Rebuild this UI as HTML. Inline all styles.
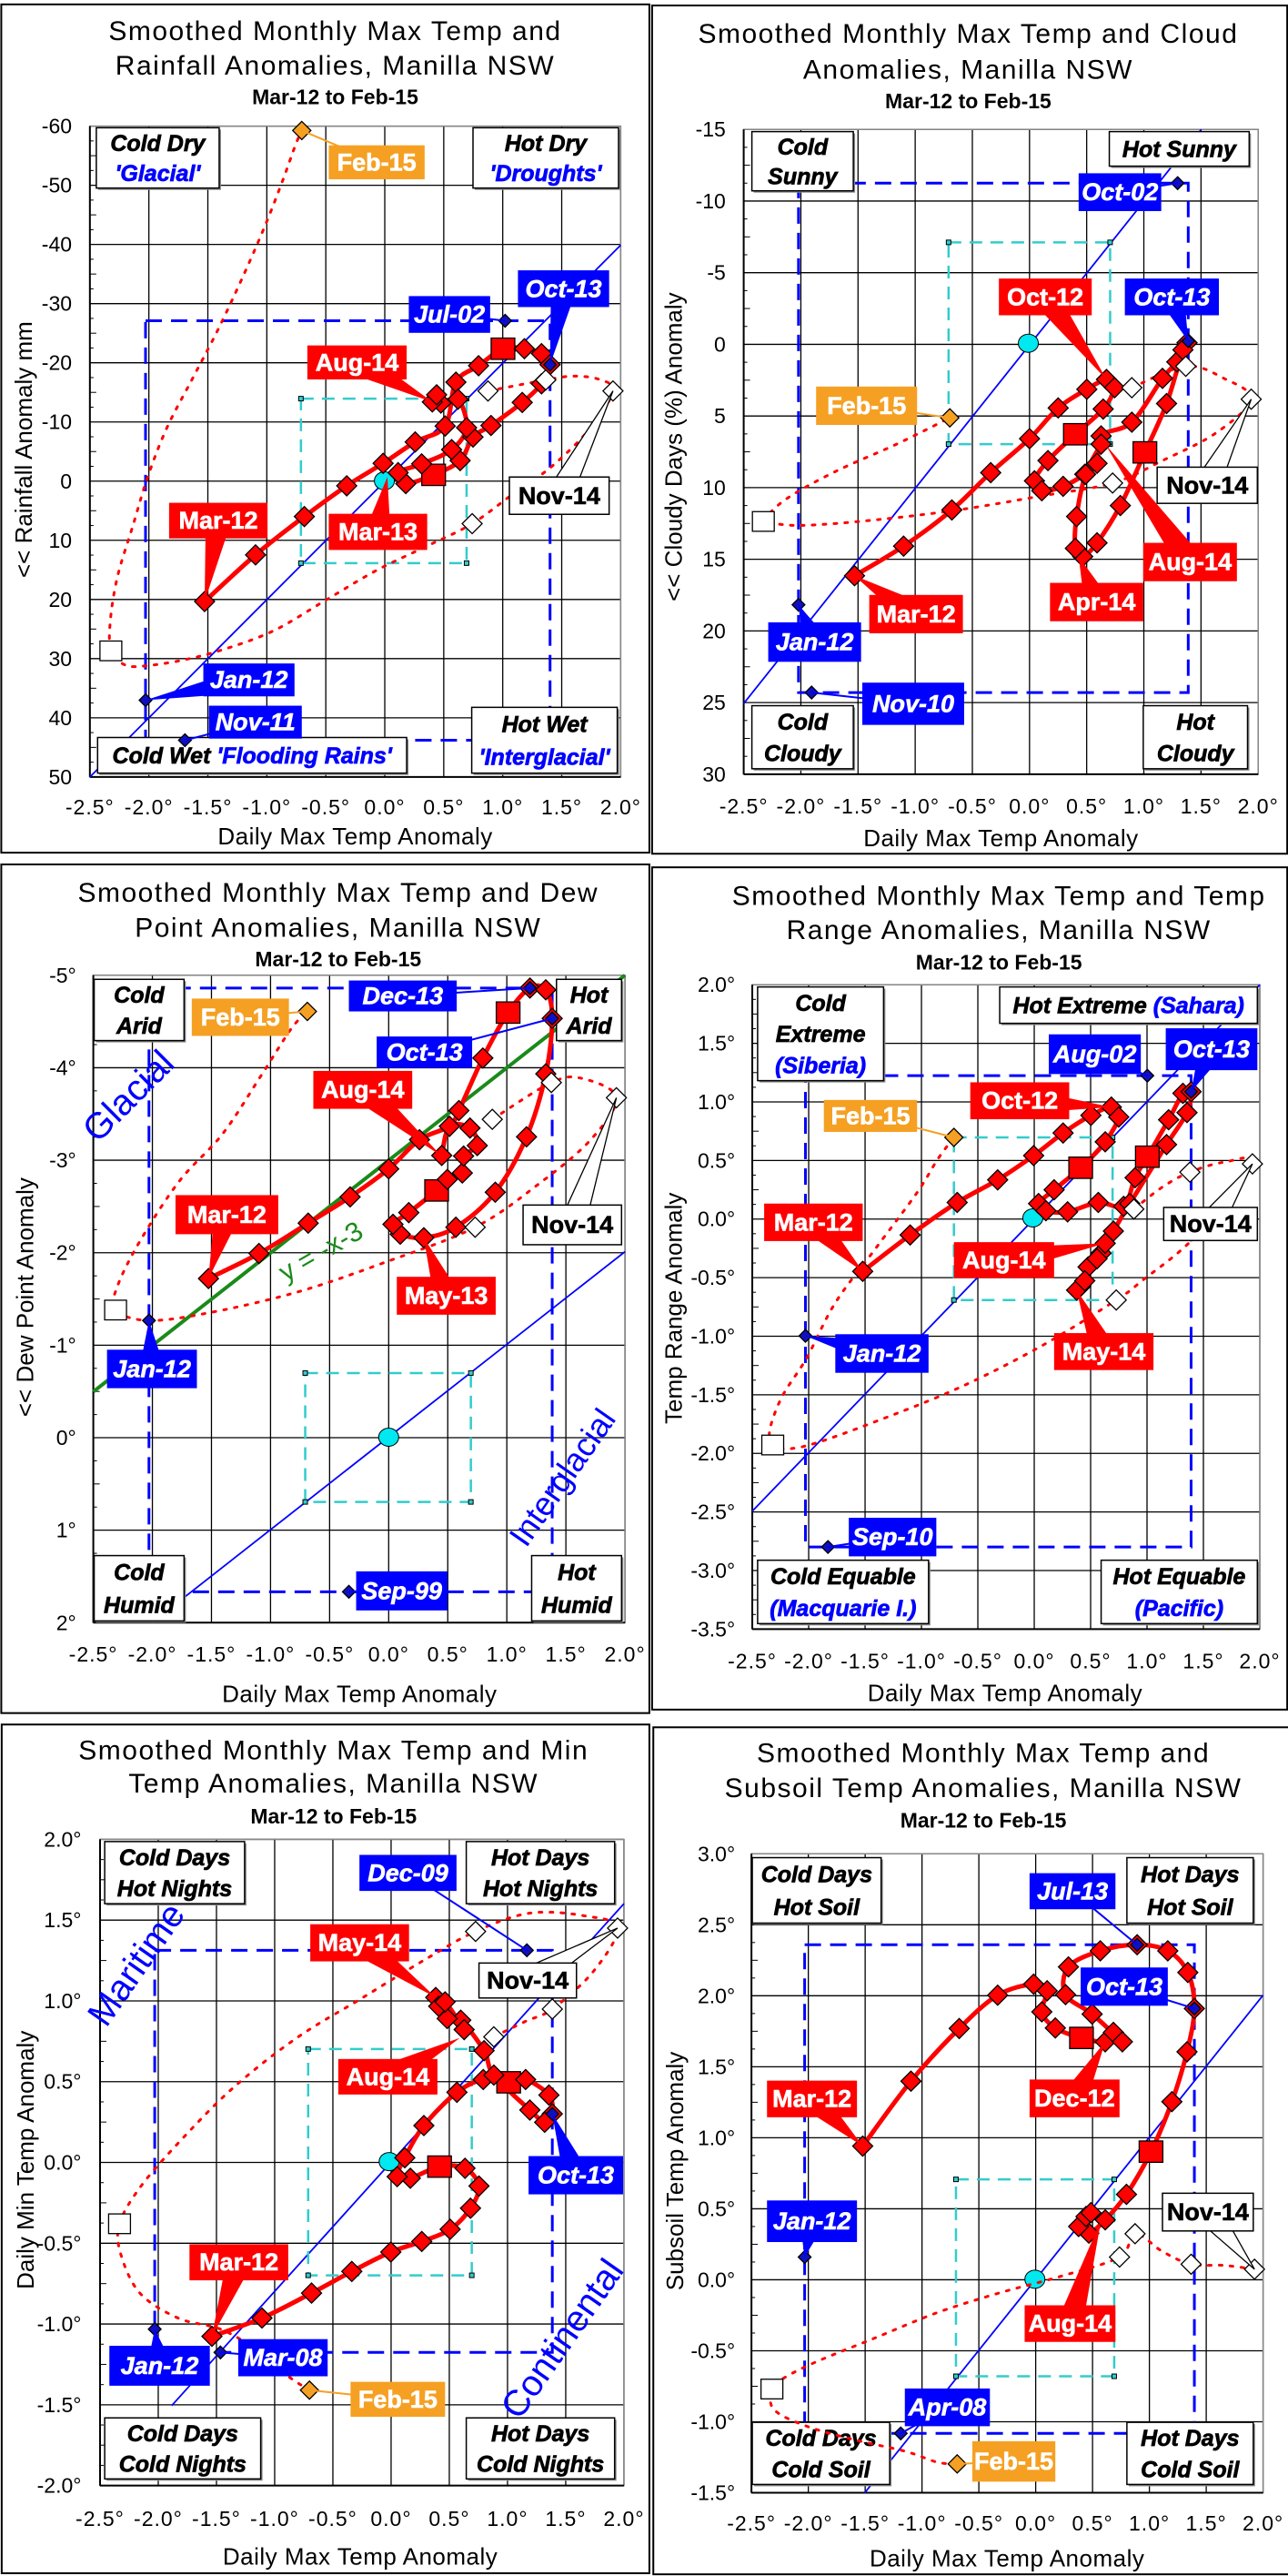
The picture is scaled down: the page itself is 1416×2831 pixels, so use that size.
<!DOCTYPE html>
<html><head><meta charset="utf-8"><style>
body{margin:0;background:#fff}
svg{display:block}
text{font-family:"Liberation Sans",Arial,sans-serif}
</style></head><body>
<svg id="s" xmlns="http://www.w3.org/2000/svg" width="1416" height="2831" viewBox="0 0 1416 2831"><rect width="1416" height="2831" fill="#fff"/></svg>
<script>
const NS='http://www.w3.org/2000/svg';const S=document.getElementById('s');
function el(t,a,p,tx){const e=document.createElementNS(NS,t);for(const k in a)e.setAttribute(k,a[k]);(p||S).appendChild(e);if(tx!==undefined)e.textContent=tx;return e;}
function smooth(p){let d='M'+p[0][0]+','+p[0][1];for(let i=0;i<p.length-1;i++){const a=p[i-1]||p[i],b=p[i],c=p[i+1],e=p[i+2]||c;const c1=[b[0]+(c[0]-a[0])/6,b[1]+(c[1]-a[1])/6],c2=[c[0]-(e[0]-b[0])/6,c[1]-(e[1]-b[1])/6];d+=' C'+c1+' '+c2+' '+c;}return d;}
const RED='#ff0000',BLUE='#0000ff',ORG='#f5a023',CY='#33cccc';
function panel(P){
const [ox,oy,sx,sy]=P.o;const X=v=>ox+v*sx,Y=v=>oy+v*sy,T=p=>[X(p[0]),Y(p[1])];
const g=el('g',{});
const b=P.box;el('rect',{x:X(b[0]),y:Y(b[1]),width:X(b[2])-X(b[0]),height:Y(b[3])-Y(b[1]),fill:'#fff',stroke:'#000','stroke-width':2},g);
el('text',{x:X(P.tx),y:Y(P.ty[0])+11,'font-size':30,'text-anchor':'middle','letter-spacing':1.5},g,P.t[0]);
el('text',{x:X(P.tx),y:Y(P.ty[1])+11,'font-size':30,'text-anchor':'middle','letter-spacing':1.5},g,P.t[1]);
el('text',{x:X(P.tx),y:Y(P.ty[2])+8,'font-size':23,'font-weight':'bold','text-anchor':'middle'},g,'Mar-12 to Feb-15');
const L=X(P.x1),R=X(P.x2),TP=Y(P.yT),BT=Y(P.yB);
const n=P.yl.length-1;
for(let i=0;i<=n;i++){const y=TP+(BT-TP)*i/n;el('line',{x1:L,x2:R,y1:y,y2:y,stroke:'#000','stroke-width':1.3},g);
el('text',{x:X(P.ylx),y:y+8,'font-size':23,'text-anchor':'end'},g,P.yl[i]);
if(i<n){for(let k=1;k<4;k++){const yy=y+(BT-TP)/n*k/4;el('line',{x1:L,x2:L+(k==2?7:4),y1:yy,y2:yy,stroke:'#000','stroke-width':1},g);}}}
const xl=['-2.5°','-2.0°','-1.5°','-1.0°','-0.5°','0.0°','0.5°','1.0°','1.5°','2.0°'];
for(let i=0;i<10;i++){const x=L+(R-L)*i/9;el('line',{x1:x,x2:x,y1:TP,y2:BT,stroke:'#000','stroke-width':1.3},g);
el('text',{x:x,y:Y(P.xly)+8,'font-size':23,'text-anchor':'middle','letter-spacing':1},g,xl[i]);}
el('rect',{x:L,y:TP,width:R-L,height:BT-TP,fill:'none',stroke:'#888','stroke-width':1.5},g);
el('line',{x1:L,x2:L,y1:TP,y2:BT,stroke:'#000','stroke-width':2},g);
el('line',{x1:L,x2:R,y1:BT,y2:BT,stroke:'#000','stroke-width':2},g);
el('text',{x:X(P.xtx),y:Y(P.xty)+9,'font-size':26,'text-anchor':'middle','letter-spacing':0.5},g,'Daily Max Temp Anomaly');
el('text',{transform:`translate(${X(P.ytx)},${Y(P.yty)}) rotate(-90)`,'font-size':26,'text-anchor':'middle',y:9},g,P.yt);
const d=P.diag;el('line',{x1:X(d[0]),y1:Y(d[1]),x2:X(d[2]),y2:Y(d[3]),stroke:BLUE,'stroke-width':1.8},g);
if(P.green){const q=P.green;el('line',{x1:X(q[0]),y1:Y(q[1]),x2:X(q[2]),y2:Y(q[3]),stroke:'#1a8a1a','stroke-width':4},g);}
if(P.rot)P.rot.forEach(r=>el('text',{transform:`translate(${X(r[1])},${Y(r[2])}) rotate(${r[3]})`,'font-size':r[5],fill:r[4],'text-anchor':'middle'},g,r[0]));
const br=P.br;el('rect',{x:X(br[0]),y:Y(br[1]),width:X(br[2])-X(br[0]),height:Y(br[3])-Y(br[1]),fill:'none',stroke:BLUE,'stroke-width':3,'stroke-dasharray':'18 10'},g);
const cr=P.cr;el('rect',{x:X(cr[0]),y:Y(cr[1]),width:X(cr[2])-X(cr[0]),height:Y(cr[3])-Y(cr[1]),fill:'none',stroke:CY,'stroke-width':2.5,'stroke-dasharray':'14 9'},g);
[[cr[0],cr[1]],[cr[2],cr[1]],[cr[0],cr[3]],[cr[2],cr[3]]].forEach(c=>el('rect',{x:X(c[0])-2.5,y:Y(c[1])-2.5,width:5,height:5,fill:CY,stroke:'#000','stroke-width':1},g));
P.cb.forEach(c=>{const x1=X(c[0]),y1=Y(c[1]),x2=X(c[2]),y2=Y(c[3]);el('rect',{x:x1+2,y:y1+2,width:x2-x1,height:y2-y1,fill:'#888'},g);el('rect',{x:x1,y:y1,width:x2-x1,height:y2-y1,fill:'#fff',stroke:'#000','stroke-width':1.5},g);
const m=c[4].length;c[4].forEach((ln,i)=>{const t=el('text',{x:(x1+x2)/2,y:y1+(y2-y1)*(i+0.5)/m+9,'font-size':25,'font-weight':'bold','font-style':'italic','text-anchor':'middle','stroke-width':0.7},g);ln.forEach(sg=>{el('tspan',{fill:sg[1],stroke:sg[1]},t,sg[0]);});});});
el('ellipse',{cx:X(P.org[0]),cy:Y(P.org[1]),rx:11,ry:10,fill:'#00e8f0',stroke:'#000','stroke-width':1},g);
el('path',{d:smooth(P.dot.map(T)),fill:'none',stroke:RED,'stroke-width':3,'stroke-dasharray':'3 9','stroke-linecap':'round'},g);
el('path',{d:smooth(P.red.map(T)),fill:'none',stroke:RED,'stroke-width':5},g);
const dia=(p,h,f,sw)=>{const [x,y]=T(p);el('polygon',{points:`${x},${y-h} ${x+h},${y} ${x},${y+h} ${x-h},${y}`,fill:f,stroke:'#000','stroke-width':sw||1.3},g);};
const sq=(p,h,f)=>{const [x,y]=T(p);el('rect',{x:x-h,y:y-h*0.9,width:2*h,height:2*h*0.9,fill:f,stroke:'#000','stroke-width':1.3},g);};
P.red.forEach(p=>{if(p[2])sq(p,13,RED);else dia(p,11,RED);});
P.wd.forEach(p=>dia(p,11,'#fff'));sq(P.ws,12,'#fff');
dia(P.od,10,ORG);
P.bd.forEach(p=>dia(p,7,'#1010c0'));
P.lab.forEach(l=>{const [tx,a,b2,c,dd,col,pt,px,py]=l;const x1=X(a),y1=Y(b2),x2=X(c),y2=Y(dd);const cx=(x1+x2)/2,cy=(y1+y2)/2;const tX=X(px),tY=Y(py);
const fill=col=='r'?RED:col=='b'?BLUE:col=='o'?ORG:'#fff';
if(pt=='l'){el('line',{x1:cx,y1:cy,x2:tX,y2:tY,stroke:col=='w'?'#000':fill,'stroke-width':2},g);}
else{let dx=tX-cx,dy=tY-cy,len=Math.hypot(dx,dy);const nx=-dy/len*14,ny=dx/len*14;el('polygon',{points:`${cx+nx},${cy+ny} ${cx-nx},${cy-ny} ${tX},${tY}`,fill:fill,stroke:col=='w'?'#000':'none','stroke-width':1.3},g);}
el('rect',{x:x1,y:y1,width:x2-x1,height:y2-y1,fill:fill,stroke:col=='w'?'#000':'none','stroke-width':1.5},g);
const tc=col=='w'?'#000':'#fff';
el('text',{x:cx,y:cy+9,'font-size':27,'font-weight':'bold','font-style':col=='b'?'italic':'normal',fill:tc,stroke:tc,'stroke-width':0.6,'text-anchor':'middle'},g,tx);});
}
const K='#000';
const panels=[
{o:[0,0,0.4706,0.6026],box:[3,8,1517,1555],tx:783,ty:[55,118,177],t:['Smoothed Monthly Max Temp and','Rainfall Anomalies, Manilla NSW'],
x1:210,x2:1450,yT:230,yB:1417,yl:['-60','-50','-40','-30','-20','-10','0','10','20','30','40','50'],ylx:168,xly:1472,xty:1525,xtx:830,yt:'<< Rainfall Anomaly mm',ytx:55,yty:820,
diag:[210,1417,1450,447],br:[340,585,1285,1350],cr:[703,727,1090,1027],org:[898,877],
dot:[[1140,713],[1275,693],[1340,686],[1400,692],[1432,713],[1380,780],[1290,850],[1200,900],[1103,955],[1000,995],[880,1040],[760,1095],[640,1150],[520,1185],[420,1205],[330,1215],[290,1212],[259,1187],[258,1130],[275,1050],[310,960],[345,870],[390,780],[450,690],[510,600],[570,500],[620,410],[660,330],[690,265],[705,238]],
wd:[[1140,713],[1275,693],[1432,713],[1103,955]],ws:[259,1187],od:[705,238],
red:[[478,1097],[597,1012],[711,942],[810,886],[895,845],[970,806],[1040,777],[1065,697],[1118,667],[1175,636,1],[1225,636],[1265,645],[1285,665],[1265,700],[1220,734],[1147,776],[1105,797],[1075,840],[1013,866,1],[948,882],[930,862],[985,846],[1055,820],[1090,780],[1070,728],[1030,735],[1010,733],[1020,720]],
bd:[[1180,585],[1285,665],[340,1277],[432,1350]],
lab:[['Feb-15',768,265,992,327,'o','l',705,238],['Jul-02',955,540,1145,607,'b','l',1180,585],['Oct-13',1210,493,1423,560,'b','w',1285,665],['Aug-14',718,630,950,692,'r','w',1010,733],['Mar-12',395,917,625,982,'r','w',478,1097],['Mar-13',768,937,998,1003,'r','w',905,870],['Nov-14',1190,870,1423,938,'w','w',1432,713],['Jan-12',475,1210,688,1270,'b','w',340,1277],['Nov-11',488,1287,705,1347,'b','l',432,1350]],
cb:[[225,233,512,343,[[['Cold Dry',K]],[["'Glacial'",BLUE]]]],[1105,233,1445,343,[[['Hot  Dry',K]],[["'Droughts'",BLUE]]]],[228,1345,950,1410,[[['Cold Wet  ',K],["'Flooding Rains'",BLUE]]]],[1102,1290,1442,1410,[[['Hot Wet',K]],[["'Interglacial'",BLUE]]]]]},
{o:[716,0,0.4496,0.6026],box:[2,10,1555,1557],tx:775,ty:[60,125,184],t:['Smoothed Monthly Max Temp and Cloud','Anomalies, Manilla NSW'],
x1:226,x2:1484,yT:236,yB:1412,yl:['-15','-10','-5','0','5','10','15','20','25','30'],ylx:182,xly:1470,xty:1528,xtx:855,yt:'<< Cloudy Days (%) Anomaly',ytx:55,yty:815,
diag:[226,1283,1345,236],br:[360,334,1313,1263],cr:[727,442,1122,810],org:[922,626],
dot:[[1175,707],[1307,668],[1400,690],[1467,728],[1380,790],[1250,840],[1128,881],[950,905],[750,930],[550,948],[380,958],[300,955],[274,951],[330,910],[450,860],[600,810],[730,762]],
wd:[[1175,707],[1307,668],[1467,728],[1128,881]],ws:[274,951],od:[730,762],
red:[[497,1050],[617,996],[735,930],[830,862],[925,800],[995,744],[1065,710],[1113,692],[1133,707],[1105,746],[1037,792,1],[970,840],[937,877],[955,895],[1007,887],[1060,865],[1090,845],[1100,795],[1175,770],[1250,690],[1285,660],[1310,625],[1300,638],[1260,736],[1207,825,1],[1147,922],[1090,990],[1055,1015],[1037,1000],[1040,942],[1062,865],[1100,810]],
bd:[[1287,334],[1313,622],[360,1103],[392,1263]],
lab:[['Feb-15',403,705,650,775,'o','l',730,762],['Oct-02',1045,316,1247,385,'b','l',1287,334],['Oct-12',850,508,1077,575,'r','w',1113,692],['Oct-13',1158,508,1388,575,'b','w',1313,622],['Nov-14',1237,852,1482,918,'w','w',1467,728],['Aug-14',1203,990,1432,1060,'r','w',1110,810],['Apr-14',975,1063,1203,1133,'r','w',1045,1015],['Mar-12',533,1085,762,1155,'r','w',497,1050],['Jan-12',286,1135,513,1207,'b','w',360,1103],['Nov-10',516,1245,765,1322,'b','l',392,1263]],
cb:[[246,240,494,348,[[['Cold',K]],[['Sunny',K]]]],[1120,240,1462,303,[[['Hot  Sunny',K]]]],[246,1287,494,1402,[[['Cold',K]],[['Cloudy',K]]]],[1203,1287,1458,1402,[[['Hot',K]],[['Cloudy',K]]]]]},
{o:[0,900,0.4706,0.641],box:[3,78,1517,1533],tx:790,ty:[125,185,240],t:['Smoothed Monthly Max Temp and Dew','Point Anomalies, Manilla NSW'],
x1:218,x2:1460,yT:268,yB:1378,yl:['-5°','-4°','-3°','-2°','-1°','0°','1°','2°'],ylx:178,xly:1432,xty:1500,xtx:840,yt:'<< Dew Point Anomaly',ytx:58,yty:820,
diag:[355,1378,1460,742],green:[218,982,1460,268],rot:[['Glacial',320,490,-45,BLUE,40],['Interglacial',1335,1140,-55,BLUE,36],['y = -x-3',760,755,-30,'#1a8a1a',30]],
br:[348,290,1290,1325],cr:[713,950,1100,1171],org:[908,1060],
dot:[[1150,515],[1288,452],[1360,445],[1440,478],[1380,550],[1260,625],[1110,700],[900,760],[700,810],[500,845],[350,860],[270,842],[275,800],[330,720],[420,620],[520,540],[610,440],[680,360],[718,330]],
wd:[[1150,515],[1288,452],[1440,478],[1110,700]],ws:[270,842],od:[718,330],
red:[[487,788],[605,745],[720,693],[818,648],[908,600],[980,550],[1050,527],[1072,500],[1128,410],[1187,332,1],[1238,290],[1275,293],[1290,342],[1275,437],[1230,545],[1157,640],[1065,700],[990,718],[935,712],[918,695],[955,675],[1020,637,1],[1045,618],[1080,607],[1083,578],[1115,560],[1098,530],[1050,527],[1032,577]],
bd:[[1238,290],[1290,342],[348,860],[815,1325]],
lab:[['Feb-15',448,308,675,372,'o','l',718,330],['Dec-13',815,277,1067,330,'b','l',1238,290],['Oct-13',880,373,1103,427,'b','l',1290,342],['Aug-14',732,432,963,497,'r','w',1030,577],['Mar-12',410,645,650,712,'r','w',487,788],['May-13',927,785,1158,850,'r','w',990,718],['Nov-14',1222,662,1452,730,'w','w',1440,478],['Jan-12',250,910,460,976,'b','w',348,860],['Sep-99',832,1290,1045,1357,'b','l',815,1325]],
cb:[[220,275,430,380,[[['Cold',K]],[['Arid',K]]]],[1300,275,1452,380,[[['Hot',K]],[['Arid',K]]]],[220,1263,430,1375,[[['Cold',K]],[['Humid',K]]]],[1242,1263,1452,1375,[[['Hot',K]],[['Humid',K]]]]]},
{o:[716,935,0.4496,0.6058],box:[2,30,1555,1558],tx:850,ty:[80,142,202],t:['Smoothed Monthly Max Temp and Temp','Range Anomalies, Manilla NSW'],
x1:247,x2:1488,yT:243,yB:1412,yl:['2.0°','1.5°','1.0°','0.5°','0.0°','-0.5°','-1.0°','-1.5°','-2.0°','-2.5°','-3.0°','-3.5°'],ylx:205,xly:1470,xty:1528,xtx:865,yt:'Temp Range Anomaly',ytx:55,yty:830,
diag:[247,1198,1488,243],br:[377,408,1320,1263],cr:[740,520,1128,815],org:[933,666],
dot:[[1180,650],[1250,610],[1317,583],[1400,565],[1470,568],[1330,700],[1200,780],[1137,815],[950,900],[750,975],[550,1035],[400,1075],[330,1085],[297,1078],[290,1050],[320,990],[380,920],[450,820],[550,720],[650,620],[700,560],[740,520]],
wd:[[1180,650],[1317,583],[1470,568],[1137,815]],ws:[297,1078],od:[740,520],
red:[[517,763],[633,697],[748,638],[847,597],[935,553],[1007,512],[1075,480],[1125,465],[1143,483],[1110,528],[1050,575,1],[985,615],[947,640],[965,653],[1018,655],[1093,638],[1155,645],[1183,593],[1213,555,1],[1265,488],[1300,440],[1320,437],[1310,475],[1260,533],[1170,640],[1130,690],[1100,730],[1068,755],[1050,790],[1040,797],[1060,780],[1090,740],[1110,712]],
bd:[[1213,408],[1320,437],[377,880],[432,1263]],
lab:[['Aug-02',972,333,1197,405,'b','l',1213,408],['Oct-13',1258,322,1482,398,'b','w',1320,437],['Oct-12',780,420,1022,487,'r','w',1125,465],['Feb-15',422,452,650,510,'o','l',740,520],['Mar-12',276,640,517,708,'r','w',517,763],['Nov-14',1253,647,1482,707,'w','w',1470,568],['Aug-14',740,710,985,775,'r','w',1110,712],['May-14',985,875,1228,942,'r','w',1040,797],['Jan-12',450,877,678,947,'b','w',377,880],['Sep-10',483,1210,697,1280,'b','l',432,1263]],
cb:[[260,247,568,417,[[['Cold',K]],[['Extreme',K]],[['(Siberia)',BLUE]]]],[852,247,1482,313,[[['Hot Extreme  ',K],['(Sahara)',BLUE]]]],[260,1287,678,1402,[[['Cold  Equable',K]],[['(Macquarie I.)',BLUE]]]],[1100,1287,1482,1402,[[['Hot Equable',K]],[['(Pacific)',BLUE]]]]]},
{o:[0,1880,0.466,0.6096],box:[4,25,1532,1555],tx:787,ty:[70,130,190],t:['Smoothed Monthly Max Temp and Min','Temp Anomalies, Manilla NSW'],
x1:236,x2:1472,yT:232,yB:1397,yl:['2.0°','1.5°','1.0°','0.5°','0.0°','-0.5°','-1.0°','-1.5°','-2.0°'],ylx:192,xly:1457,xty:1525,xtx:850,yt:'Daily Min Temp Anomaly',ytx:60,yty:810,
diag:[405,1253,1472,348],rot:[['Maritime',345,470,-55,BLUE,40],['Continental',1350,1145,-55,BLUE,40]],
br:[365,432,1303,1157],cr:[727,610,1113,1018],org:[918,813],
dot:[[1165,588],[1240,560],[1303,538],[1400,470],[1457,392],[1380,370],[1250,365],[1122,398],[1000,450],[850,520],[700,590],[550,680],[420,780],[330,860],[282,925],[285,980],[330,1050],[420,1095],[520,1115],[600,1150],[680,1200],[730,1225]],
wd:[[1122,398],[1165,588],[1303,538],[1457,392]],ws:[282,925],od:[730,1225],
red:[[500,1128],[618,1095],[735,1050],[830,1011],[922,976],[995,957],[1062,935],[1110,897],[1130,857],[1097,825],[1037,822,1],[968,843],[937,840],[955,806],[1000,748],[1078,688],[1140,665],[1200,670,1],[1240,665],[1295,693],[1303,727],[1285,742],[1250,720],[1165,657],[1142,613],[1087,558],[1055,555],[1028,517],[1035,533],[1050,525],[1095,575]],
bd:[[1243,432],[1303,727],[365,1115],[520,1157]],
lab:[['Dec-09',848,260,1077,325,'b','l',1243,432],['May-14',732,385,965,452,'r','w',1028,517],['Nov-14',1130,455,1360,518,'w','w',1457,392],['Aug-14',798,628,1032,692,'r','w',1085,590],['Oct-13',1247,803,1470,872,'b','w',1303,727],['Mar-12',447,962,680,1027,'r','w',500,1128],['Jan-12',258,1145,495,1217,'b','w',365,1115],['Mar-08',562,1133,773,1200,'b','l',520,1157],['Feb-15',827,1210,1050,1273,'o','l',730,1225]],
cb:[[247,236,577,348,[[['Cold  Days',K]],[['Hot Nights',K]]]],[1100,236,1450,348,[[['Hot  Days',K]],[['Hot Nights',K]]]],[247,1275,615,1385,[[['Cold  Days',K]],[['Cold Nights',K]]]],[1100,1275,1450,1385,[[['Hot  Days',K]],[['Cold Nights',K]]]]]},
{o:[716,1880,0.4496,0.6096],box:[5,30,1560,1557],tx:812,ty:[75,138,198],t:['Smoothed Monthly Max Temp and','Subsoil Temp Anomalies, Manilla NSW'],
x1:245,x2:1496,yT:258,yB:1410,yl:['3.0°','2.5°','2.0°','1.5°','1.0°','0.5°','0.0°','-0.5°','-1.0°','-1.5°'],ylx:205,xly:1465,xty:1528,xtx:870,yt:'Subsoil Temp Anomaly',ytx:58,yty:830,
diag:[522,1410,1496,513],br:[375,422,1328,1303],cr:[745,845,1132,1200],org:[938,1025],
dot:[[1475,1007],[1400,1000],[1320,998],[1250,975],[1183,943],[1145,985],[1000,1020],[850,1050],[700,1085],[550,1130],[400,1175],[320,1205],[295,1223],[300,1260],[380,1290],[500,1315],[620,1335],[700,1355],[748,1358]],
wd:[[1183,943],[1145,985],[1320,998],[1475,1007]],ws:[295,1223],od:[748,1358],
red:[[517,785],[635,668],[753,573],[847,513],[935,493],[968,505],[955,543],[988,572],[1052,590,1],[1110,597],[1130,580],[1152,597],[1078,547],[1013,512],[1020,462],[1098,433],[1188,422],[1263,433],[1312,472],[1328,537],[1310,615],[1273,705],[1222,795,1],[1162,872],[1110,918],[1070,942],[1045,930],[1063,912],[1075,905]],
bd:[[1188,422],[1328,537],[375,985],[610,1303]],
lab:[['Jul-13',925,293,1135,358,'b','l',1188,422],['Oct-13',1050,463,1263,532,'b','l',1328,537],['Mar-12',283,667,503,733,'r','w',517,785],['Dec-12',925,665,1145,733,'r','w',1110,597],['Nov-14',1250,870,1472,938,'w','w',1475,1007],['Jan-12',283,883,503,958,'b','w',375,985],['Aug-14',913,1072,1135,1138,'r','w',1100,918],['Apr-08',620,1222,828,1290,'b','l',610,1303],['Feb-15',785,1317,988,1390,'o','l',748,1358]],
cb:[[247,265,562,383,[[['Cold Days',K]],[['Hot Soil',K]]]],[1163,265,1472,383,[[['Hot Days',K]],[['Hot Soil',K]]]],[247,1283,583,1395,[[['Cold  Days',K]],[['Cold Soil',K]]]],[1163,1283,1472,1395,[[['Hot  Days',K]],[['Cold Soil',K]]]]]}
];
panels.forEach(panel);
</script>
</body></html>
